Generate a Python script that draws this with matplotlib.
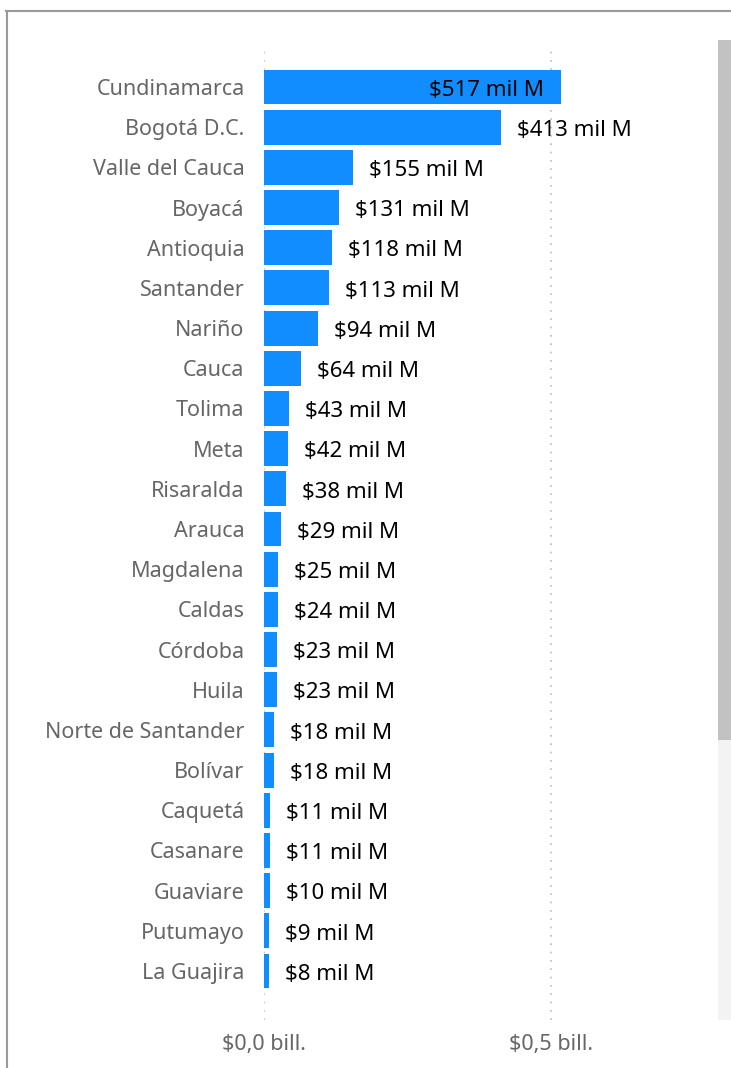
import matplotlib.pyplot as plt
from matplotlib.patches import Rectangle
from matplotlib.lines import Line2D

plt.rcParams["font.family"] = ["Noto Sans", "DejaVu Sans"]

departamentos = [
    "Cundinamarca", "Bogotá D.C.", "Valle del Cauca", "Boyacá", "Antioquia",
    "Santander", "Nariño", "Cauca", "Tolima", "Meta", "Risaralda", "Arauca",
    "Magdalena", "Caldas", "Córdoba", "Huila", "Norte de Santander", "Bolívar",
    "Caquetá", "Casanare", "Guaviare", "Putumayo", "La Guajira",
]
valores = [517, 413, 155, 131, 118, 113, 94, 64, 43, 42, 38, 29,
           25, 24, 23, 23, 18, 18, 11, 11, 10, 9, 8]  # miles de millones
xticks = [0, 500]
xtick_labels = ["$0,0 bill.", "$0,5 bill."]

W, H = 731, 1068
fig = plt.figure(figsize=(W / 100, H / 100), dpi=100)

# panel border and scrollbar
fig.add_artist(Line2D([6 / W, 1], [1 - 11 / H] * 2, color="#9a9a9a", lw=1.5))
fig.add_artist(Line2D([7 / W] * 2, [0, 1 - 11 / H], color="#9a9a9a", lw=1.5))
fig.add_artist(Rectangle((718 / W, 1 - 1020 / H), 13 / W, 280 / H,
                         facecolor="#f3f3f3", edgecolor="none"))
fig.add_artist(Rectangle((718 / W, 1 - 740 / H), 13 / W, 700 / H,
                         facecolor="#c2c2c2", edgecolor="none"))

left, right, top, bottom = 264, 700, 45, 1020
ax = fig.add_axes([left / W, 1 - bottom / H, (right - left) / W, (bottom - top) / H])

px = 500 / 287  # data units per pixel
pos = list(range(len(departamentos)))
ax.barh(pos, valores, height=0.87, color="#118DFF", zorder=2)
ax.set_xlim(0, (right - left) * px)
sp = 40.18
ax.set_ylim(22 + (bottom - 971) / sp, -(87 - top) / sp)

for i, v in enumerate(valores):
    txt = f"${v} mil M"
    if i == 0:
        ax.text(v - 17 * px, i + 0.08, txt, ha="right", va="center",
                fontsize=16, color="black", zorder=3)
    else:
        ax.text(v + 16 * px, i + 0.08, txt, ha="left", va="center",
                fontsize=16, color="black", zorder=3)

ax.set_yticks(pos)
ax.set_yticklabels(departamentos, fontsize=15.5, color="#666666")
ax.set_xticks(xticks)
ax.set_xticklabels(xtick_labels, fontsize=15.5, color="#666666")
ax.tick_params(axis="both", length=0)
ax.tick_params(axis="y", pad=14)
ax.tick_params(axis="x", pad=10)
ax.grid(axis="x", linestyle=(0, (1, 4)), color="#bbbbbb", lw=1.2, zorder=0)
for s in ax.spines.values():
    s.set_visible(False)

fig.savefig("out.png", dpi=100)
